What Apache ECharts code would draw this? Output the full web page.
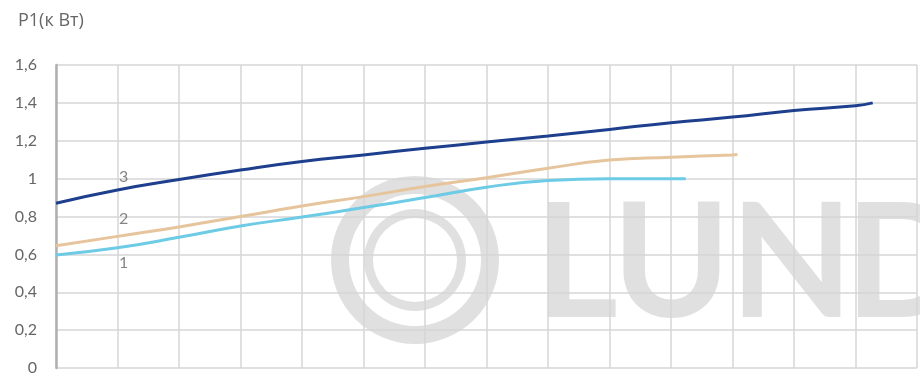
<!DOCTYPE html>
<html>
<head>
<meta charset="utf-8">
<script src="https://cdn.jsdelivr.net/npm/echarts@6/dist/echarts.min.js"></script>
<style>html,body{margin:0;padding:0;background:#fff;}#c{width:920px;height:377px;}</style>
</head>
<body>
<div id="c"></div>
<script>
// Data
const yTickLabels = ['0', '0,2', '0,4', '0,6', '0,8', '1', '1,2', '1,4', '1,6'];
const yTitle = 'P1(к Вт)';

const curve1 = [[0,0.597],[1,0.635],[2,0.69],[3,0.75],[4,0.797],[5,0.847],[6,0.9],[7,0.955],[8,0.99],[9,1.0],[10,1.0],[10.24,1.0]];
const curve2 = [[0,0.645],[1,0.695],[2,0.745],[3,0.80],[4,0.855],[5,0.905],[6,0.958],[7,1.005],[8,1.055],[9,1.098],[10,1.113],[11,1.125],[11.08,1.127]];
const curve3 = [[0,0.87],[1,0.94],[2,0.995],[3,1.045],[4,1.09],[5,1.125],[6,1.16],[7,1.193],[8,1.225],[9,1.26],[10,1.295],[11,1.325],[12,1.36],[13,1.385],[13.28,1.40]];

const curveNames = ['1', '2', '3'];
const curveLabelX = [1.1, 1.1, 1.1];
const curveLabelY = [0.555, 0.785, 1.008];

const watermarkLetters = ['L', 'U', 'N', 'D'];

const chart = echarts.init(document.getElementById('c'), null, {renderer: 'canvas'});
const font = 'Lato, "Noto Sans", sans-serif';
const labelData = curveNames.map((n, i) => [curveLabelX[i], curveLabelY[i], n]);
const wmColor = 'rgba(0,0,0,0.12)';
const letterLeft = [535, 612, 730, 845];
const wmText = watermarkLetters.map((ch, i) => ({
  type: 'text', x: letterLeft[i], y: 345,
  style: {text: ch, fill: wmColor, fontSize: 160, fontWeight: 'bold', fontFamily: 'Lato, sans-serif', textVerticalAlign: 'bottom', verticalAlign: 'bottom', align: 'left'}
}));

chart.setOption({
  animation: false,
  backgroundColor: '#ffffff',
  grid: {left: 56, right: 3, top: 65, bottom: 9, containLabel: false},
  xAxis: {
    type: 'value', min: 0, max: 14, interval: 1,
    axisLine: {show: false}, axisTick: {show: false}, axisLabel: {show: false},
    splitLine: {show: true, lineStyle: {color: '#d6d6d6', width: 1.5}}
  },
  yAxis: {
    type: 'value', min: 0, max: 1.6, interval: 0.2,
    axisLine: {show: true, lineStyle: {color: '#b0b0b0', width: 2.5}},
    axisTick: {show: false},
    axisLabel: {
      margin: 19, color: '#666', fontSize: 16, fontFamily: font,
      formatter: (v) => yTickLabels[Math.round(v / 0.2)]
    },
    splitLine: {show: true, lineStyle: {color: '#d6d6d6', width: 1.5}}
  },
  graphic: [
    {type: 'text', left: 18, top: 12, z: 10,
      style: {text: yTitle, fill: '#666', fontSize: 18, fontFamily: '"Open Sans", sans-serif'}},
    {type: 'group', z: 100, silent: true, children: [
      {type: 'ring', shape: {cx: 415, cy: 260, r: 84, r0: 66}, style: {fill: wmColor}},
      {type: 'ring', shape: {cx: 415, cy: 260, r: 51, r0: 42}, style: {fill: wmColor}}
    ].concat(wmText)}
  ],
  series: [
    {type: 'line', data: curve1, smooth: true, showSymbol: false, lineStyle: {color: '#6dcbe5', width: 3}, z: 3},
    {type: 'line', data: curve2, smooth: true, showSymbol: false, lineStyle: {color: '#e6c59c', width: 3}, z: 3},
    {type: 'line', data: curve3, smooth: true, showSymbol: false, lineStyle: {color: '#1e3f8e', width: 3}, z: 4},
    {type: 'scatter', data: labelData, symbolSize: 0, silent: true,
      label: {show: true, position: 'inside', formatter: (p) => p.value[2], color: '#666', fontSize: 16, fontFamily: font}}
  ]
});
</script>
</body>
</html>
